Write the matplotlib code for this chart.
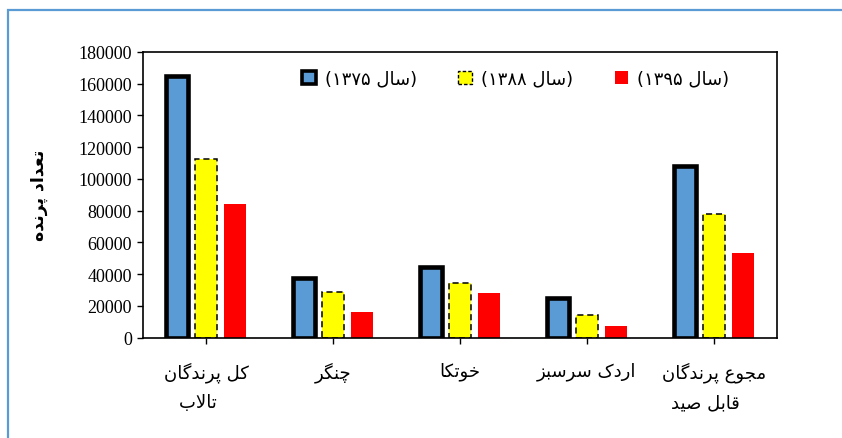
import matplotlib
matplotlib.use('Agg')
import matplotlib.pyplot as plt
from matplotlib.patches import Patch, Rectangle
import numpy as np

# presentation forms: isolated, final, initial, medial
FORMS = {
    'ا': ('\uFE8D', '\uFE8E', None, None),
    'ب': ('\uFE8F', '\uFE90', '\uFE91', '\uFE92'),
    'پ': ('\uFB56', '\uFB57', '\uFB58', '\uFB59'),
    'ت': ('\uFE95', '\uFE96', '\uFE97', '\uFE98'),
    'ج': ('\uFE9D', '\uFE9E', '\uFE9F', '\uFEA0'),
    'چ': ('\uFB7A', '\uFB7B', '\uFB7C', '\uFB7D'),
    'خ': ('\uFEA5', '\uFEA6', '\uFEA7', '\uFEA8'),
    'د': ('\uFEA9', '\uFEAA', None, None),
    'ر': ('\uFEAD', '\uFEAE', None, None),
    'ز': ('\uFEAF', '\uFEB0', None, None),
    'س': ('\uFEB1', '\uFEB2', '\uFEB3', '\uFEB4'),
    'ص': ('\uFEB9', '\uFEBA', '\uFEBB', '\uFEBC'),
    'ع': ('\uFEC9', '\uFECA', '\uFECB', '\uFECC'),
    'ق': ('\uFED5', '\uFED6', '\uFED7', '\uFED8'),
    'ک': ('\uFB8E', '\uFB8F', '\uFB90', '\uFB91'),
    'گ': ('\uFB92', '\uFB93', '\uFB94', '\uFB95'),
    'ل': ('\uFEDD', '\uFEDE', '\uFEDF', '\uFEE0'),
    'م': ('\uFEE1', '\uFEE2', '\uFEE3', '\uFEE4'),
    'ن': ('\uFEE5', '\uFEE6', '\uFEE7', '\uFEE8'),
    'ه': ('\uFEE9', '\uFEEA', '\uFEEB', '\uFEEC'),
    'و': ('\uFEED', '\uFEEE', None, None),
    'ی': ('\uFBFC', '\uFBFD', '\uFBFE', '\uFBFF'),
}


def dual(c):
    return c in FORMS and FORMS[c][2] is not None


def shape(text):
    # join letters and return in visual (left to right) order
    out = []
    i = 0
    while i < len(text):
        c = text[i]
        if c not in FORMS:
            out.append(c)
            i += 1
            continue
        prev_j = i > 0 and dual(text[i - 1])
        if c == 'ل' and i + 1 < len(text) and text[i + 1] == 'ا':
            out.append('\uFEFC' if prev_j else '\uFEFB')
            i += 2
            continue
        next_j = dual(c) and i + 1 < len(text) and text[i + 1] in FORMS
        iso, fin, ini, med = FORMS[c]
        if prev_j and next_j:
            out.append(med)
        elif prev_j:
            out.append(fin)
        elif next_j:
            out.append(ini)
        else:
            out.append(iso)
        i += 1
    return ''.join(out)[::-1]


categories = [['کل پرندگان', 'تالاب'], ['چنگر'], ['خوتکا'], ['اردک سرسبز'],
              ['مجوع پرندگان', 'قابل صید']]
years = ['۱۳۷۵', '۱۳۸۸', '۱۳۹۵']
y1375 = [165000, 37500, 44500, 25000, 108000]
y1388 = [112500, 28500, 34500, 14000, 78000]
y1395 = [84000, 16000, 28000, 7300, 53500]
yticks = list(range(0, 180001, 20000))

fig = plt.figure(figsize=(8.42, 4.39), dpi=100)
ax = fig.add_axes([0.1698, 0.2289, 0.7530, 0.6504])

x = np.arange(len(categories))
w = 0.173
off = 0.229
b1 = ax.bar(x - off, y1375, w, color='#5B9BD5', edgecolor='black', linewidth=3.3)
b2 = ax.bar(x, y1388, w, color='#FFFF00', edgecolor='black', linewidth=1.1,
            linestyle=(0, (4, 2.5)))
b3 = ax.bar(x + off, y1395, w, color='#FF0000', linewidth=0)

ax.set_xlim(-0.5, len(categories) - 0.5)
ax.set_ylim(0, 180000)
ax.set_yticks(yticks)
ax.set_yticklabels([str(v) for v in yticks], family='Liberation Serif', fontsize=13)
ax.set_xticks(x)
# second line sits a little left of the first in the reference
lab = []
for c in categories:
    lines = [shape(c[0])] + [shape(s) + '   ' for s in c[1:]]
    lab.append('\n'.join(lines))
ax.set_xticklabels(lab, family='DejaVu Sans', fontsize=13, linespacing=1.8)
ax.tick_params(axis='y', direction='out', length=4, width=1, pad=4)
ax.tick_params(axis='x', direction='out', length=4, width=1, pad=13)
for s in ax.spines.values():
    s.set_linewidth(1.2)

ax.set_ylabel(shape('تعداد پرنده'), family='DejaVu Sans', fontsize=12.5,
              fontweight='bold', labelpad=22)

handles = [
    Patch(facecolor='#5B9BD5', edgecolor='black', linewidth=2.6),
    Patch(facecolor='#FFFF00', edgecolor='black', linewidth=1.0, linestyle=(0, (2.5, 1.5))),
    Patch(facecolor='#FF0000', linewidth=0),
]
labels = ['(' + y + ' ' + shape('سال') + ')' for y in years]
leg = ax.legend(handles, labels, ncol=3, loc='upper center',
                bbox_to_anchor=(0.588, 0.995), frameon=False,
                handlelength=0.75, handleheight=0.75, handletextpad=0.5,
                columnspacing=2.3, prop={'family': 'DejaVu Sans', 'size': 13})

# outer blue frame
fig.add_artist(Rectangle((0.0095, -0.05), 1.2, 1.05 - 11 / 439,
                         transform=fig.transFigure, fill=False,
                         edgecolor='#5B9BD5', linewidth=1.6))

fig.savefig('out.png', dpi=100)
